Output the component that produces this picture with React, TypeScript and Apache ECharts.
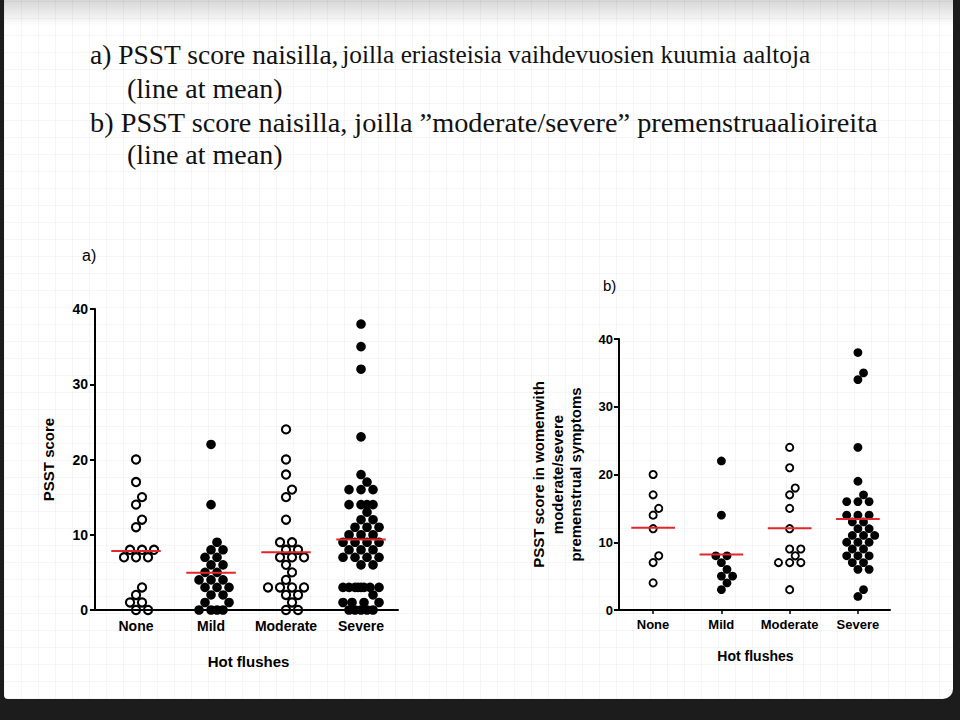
import React, { useEffect, useRef } from "react";
import * as echarts from "echarts";

// ---------- data ----------
const categories = ["None", "Mild", "Moderate", "Severe"];
const yTickInterval = 10;
const yMax = 40;

// panel a) PSST score by hot-flush severity
const aNone = [20, 17, 15, 14, 12, 11, 8, 8, 8, 7, 7, 7, 3, 2, 1, 1, 0, 0];
const aMild = [22, 14, 9, 8, 8, 7, 7, 6, 6, 5, 5, 4, 4, 4, 3, 3, 3, 2, 2, 1, 1, 0, 0, 0, 0];
const aModerate = [24, 20, 18, 16, 15, 12, 9, 9, 8, 8, 7, 7, 7, 6, 5, 4, 3, 3, 3, 3, 2, 2, 1, 0, 0];
const aSevere = [
  38, 35, 32, 23, 18, 17, 16, 16, 16, 14, 14, 14, 14, 13, 12, 12, 11, 11, 11, 10, 10, 10,
  9, 9, 9, 9, 8, 8, 8, 7, 7, 7, 7, 6, 6, 3, 3, 3, 3, 3, 3, 3, 3, 2, 1, 1, 1, 1, 0, 0, 0, 0, 0,
];

// panel b) PSST score in women with moderate/severe premenstrual symptoms
const bNone = [20, 17, 15, 14, 12, 8, 7, 4];
const bMild = [22, 14, 8, 8, 7, 6, 5, 5, 4, 3];
const bModerate = [24, 21, 18, 17, 15, 12, 9, 9, 8, 7, 7, 7, 3];
const bSevere = [
  38, 35, 34, 24, 19, 17, 16, 16, 16, 14, 14, 14, 13, 13, 12, 12, 11, 11, 11, 10, 10, 10,
  9, 9, 8, 8, 8, 7, 7, 6, 6, 3, 2,
];

const openGroups = [true, false, true, false];

// ---------- helpers ----------
const mean = (arr: number[]) => arr.reduce((s, v) => s + v, 0) / arr.length;

// deterministic beeswarm: horizontal offsets computed in pixel space to avoid overlap,
// limited to a maximum half-width (then points are allowed to overlap, as in the source)
function swarm(values: number[], pxY: number, pxX: number, step: number, diam: number, maxHalf: number) {
  const sorted = [...values].sort((a, b) => a - b);
  const placed: { x: number; y: number }[] = [];
  const out: number[][] = [];
  const cands: number[] = [0];
  for (let i = 1; i * step <= maxHalf + 0.01; i++) cands.push(i * step, -i * step);
  const fine: number[] = [0];
  const fs = step / 2;
  for (let i = 1; i * fs <= maxHalf + 0.01; i++) fine.push(i * fs, -i * fs);
  for (const v of sorted) {
    const y = v * pxY;
    let chosen: number | null = null;
    for (const c of cands) {
      if (placed.every((p) => Math.hypot(p.x - c, p.y - y) >= diam - 0.01)) {
        chosen = c;
        break;
      }
    }
    if (chosen === null) {
      let best = -1;
      for (const c of fine) {
        const d = Math.min(...placed.map((p) => Math.hypot(p.x - c, p.y - y)));
        if (d > best + 1e-6) {
          best = d;
          chosen = c;
        }
      }
    }
    const cx = chosen as number;
    placed.push({ x: cx, y });
    out.push([cx / pxX, v]);
  }
  return out;
}

const RED = "#e3262b";
const bold = { fontFamily: "Liberation Sans, Arial, sans-serif", fontWeight: "bold" as const, color: "#000" };
const SERIF = "Liberation Serif, serif";

function buildPanel(
  groups: number[][],
  axisIndex: number,
  pxY: number,
  pxX: number,
  step: number,
  diam: number,
  maxHalf: number,
  filledSize: number,
  openSize: number,
  border: number,
  halfLine: number
) {
  const series: any[] = [];
  groups.forEach((vals, i) => {
    const pts = swarm(vals, pxY, pxX, step, diam, maxHalf).map(([dx, v]) => [i + dx, v]);
    const open = openGroups[i];
    series.push({
      type: "scatter",
      xAxisIndex: axisIndex,
      yAxisIndex: axisIndex,
      data: pts,
      symbol: "circle",
      symbolSize: open ? openSize : filledSize,
      itemStyle: open
        ? { color: "rgba(0,0,0,0)", borderColor: "#000", borderWidth: border, opacity: 1 }
        : { color: "#000", opacity: 1 },
      z: 3,
      silent: true,
    });
    const m = mean(vals);
    series.push({
      type: "line",
      xAxisIndex: axisIndex,
      yAxisIndex: axisIndex,
      data: [
        [i - halfLine, m],
        [i + halfLine, m],
      ],
      symbol: "none",
      lineStyle: { color: RED, width: 2 },
      z: 5,
      silent: true,
    });
  });
  return series;
}

export default function App() {
  const ref = useRef<HTMLDivElement>(null);

  useEffect(() => {
    if (!ref.current) return;
    const chart = echarts.init(ref.current, undefined, { renderer: "svg" });

    const seriesA = buildPanel([aNone, aMild, aModerate, aSevere], 0, 301 / 40, 75, 6, 9.4, 19, 9.6, 8.2, 2.1, 0.33);
    const seriesB = buildPanel([bNone, bMild, bModerate, bSevere], 2, 271 / 40, 68.3, 5.6, 8.6, 17, 8.8, 7.2, 1.9, 0.32);

    const valueY = (grid: number, fontSize: number, margin: number, name: string, nameGap: number, lh: number) => ({
      type: "value",
      gridIndex: grid,
      min: 0,
      max: yMax,
      interval: yTickInterval,
      axisLine: { show: true, onZero: false, lineStyle: { color: "#000", width: 2 } },
      axisTick: { show: true, inside: false, length: 5, lineStyle: { color: "#000", width: 2 } },
      axisLabel: { ...bold, fontSize, margin },
      splitLine: { show: false },
      name,
      nameLocation: "middle",
      nameRotate: 90,
      nameGap,
      nameTextStyle: { ...bold, fontSize: 15, lineHeight: lh },
    });

    const hiddenY = (grid: number) => ({
      type: "value",
      gridIndex: grid,
      min: 0,
      max: yMax,
      show: false,
    });

    const option: any = {
      animation: false,
      backgroundColor: "transparent",
      grid: [
        { left: 95, top: 309, width: 303, height: 301 },
        { left: 98.5, top: 309, width: 300, height: 301 },
        { left: 619, top: 339, width: 271, height: 271 },
        { left: 618.85, top: 339, width: 273.2, height: 271 },
      ],
      xAxis: [
        {
          type: "value",
          gridIndex: 0,
          min: -0.547,
          max: 3.493,
          axisLine: { show: true, onZero: false, lineStyle: { color: "#000", width: 2 } },
          axisTick: { show: false },
          axisLabel: { show: false },
          splitLine: { show: false },
        },
        {
          type: "category",
          gridIndex: 1,
          data: categories,
          axisLine: { show: false },
          axisTick: { show: false },
          axisLabel: { ...bold, fontSize: 14, margin: 9, interval: 0 },
          name: "Hot flushes",
          nameLocation: "middle",
          nameGap: 44,
          nameTextStyle: { ...bold, fontSize: 15 },
        },
        {
          type: "value",
          gridIndex: 2,
          min: -0.5,
          max: 3.47,
          axisLine: { show: true, onZero: false, lineStyle: { color: "#000", width: 2 } },
          axisTick: { show: false },
          axisLabel: { show: false },
          splitLine: { show: false },
        },
        {
          type: "category",
          gridIndex: 3,
          data: categories,
          axisLine: { show: false },
          axisTick: { show: true, alignWithLabel: true, interval: 0, length: 4, lineStyle: { color: "#000", width: 1.5 } },
          axisLabel: { ...bold, fontSize: 13, margin: 8, interval: 0 },
          name: "Hot flushes",
          nameLocation: "middle",
          nameGap: 39,
          nameTextStyle: { ...bold, fontSize: 14 },
        },
      ],
      yAxis: [
        valueY(0, 14, 7, "PSST score", 38, 18),
        hiddenY(1),
        valueY(2, 13, 6, "PSST score in womenwith\nmoderate/severe\npremenstrual symptoms", 34, 18.5),
        hiddenY(3),
      ],
      series: [...seriesA, ...seriesB],
      graphic: [
        {
          type: "text",
          x: 90,
          y: 54,
          style: {
            text: "{a|a) PSST score naisilla,} {b|joilla eriasteisia vaihdevuosien kuumia aaltoja}",
            verticalAlign: "middle",
            rich: {
              a: { fontFamily: SERIF, fontSize: 27.5, fill: "#111" },
              b: { fontFamily: SERIF, fontSize: 25.3, fill: "#111" },
            },
          },
        },
        {
          type: "text",
          x: 127,
          y: 88,
          style: { text: "(line at mean)", fontFamily: SERIF, fontSize: 28, fill: "#111", verticalAlign: "middle" },
        },
        {
          type: "text",
          x: 90,
          y: 122,
          style: {
            text: "b) PSST score naisilla, joilla \u201dmoderate/severe\u201d premenstruaalioireita",
            fontFamily: SERIF,
            fontSize: 28.3,
            fill: "#111",
            verticalAlign: "middle",
          },
        },
        {
          type: "text",
          x: 127,
          y: 154,
          style: { text: "(line at mean)", fontFamily: SERIF, fontSize: 28, fill: "#111", verticalAlign: "middle" },
        },
        {
          type: "text",
          left: 82,
          top: 247,
          style: { text: "a)", fontFamily: "Liberation Sans, Arial, sans-serif", fontSize: 16, fill: "#000" },
        },
        {
          type: "text",
          left: 603,
          top: 278,
          style: { text: "b)", fontFamily: "Liberation Sans, Arial, sans-serif", fontSize: 15, fill: "#000" },
        },
      ],
    };

    chart.setOption(option);
    return () => chart.dispose();
  }, []);

  const grid =
    "repeating-linear-gradient(0deg, rgba(0,0,0,0.035) 0px, rgba(0,0,0,0.035) 1px, transparent 1px, transparent 17px)," +
    "repeating-linear-gradient(90deg, rgba(0,0,0,0.035) 0px, rgba(0,0,0,0.035) 1px, transparent 1px, transparent 17px)";

  return (
    <div style={{ position: "fixed", left: 0, top: 0, width: 960, height: 720, background: "#1c1c1c", overflow: "hidden" }}>
      <div
        style={{
          position: "absolute",
          left: 4,
          top: 0,
          width: 949,
          height: 699,
          backgroundColor: "#fff",
          backgroundImage: grid,
          borderBottomRightRadius: 10,
          borderBottomLeftRadius: 4,
        }}
      />
      <div
        style={{
          position: "absolute",
          left: 4,
          top: 0,
          width: 949,
          height: 26,
          background: "linear-gradient(180deg, rgba(0,0,0,0.16), rgba(0,0,0,0))",
        }}
      />
      <div ref={ref} style={{ position: "absolute", left: 0, top: 0, width: 960, height: 720 }} />
    </div>
  );
}
